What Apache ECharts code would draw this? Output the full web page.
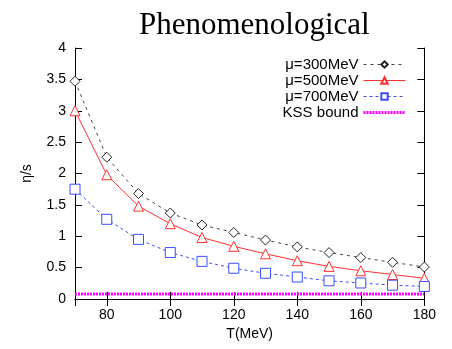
<!DOCTYPE html>
<html>
<head>
<meta charset="utf-8">
<script src="https://cdn.jsdelivr.net/npm/echarts@6/dist/echarts.min.js"></script>
<style>
html, body { margin: 0; padding: 0; background: #fff; }
#chart { width: 452px; height: 349px; }
</style>
</head>
<body>
<div id="chart"></div>
<script>
// temperature points (MeV)
const temps = [70, 80, 90, 100, 110, 120, 130, 140, 150, 160, 170, 180];
// eta/s
const mu300 = [3.47, 2.26, 1.68, 1.37, 1.18, 1.06, 0.94, 0.83, 0.74, 0.66, 0.585, 0.51];
const mu500 = [3.0, 1.98, 1.48, 1.20, 0.98, 0.84, 0.72, 0.61, 0.52, 0.45, 0.39, 0.33];
const mu700 = [1.75, 1.27, 0.95, 0.74, 0.60, 0.49, 0.41, 0.35, 0.29, 0.255, 0.22, 0.20];
const kss = [0.08, 0.08, 0.08, 0.08, 0.08, 0.08, 0.08, 0.08, 0.08, 0.08, 0.08, 0.08];
const xTicks = [80, 100, 120, 140, 160, 180];

const pairs = arr => temps.map((t, i) => [t, arr[i]]);

const chart = echarts.init(document.getElementById('chart'));
const sans = 'Liberation Sans';

const line = () => ({show: true, lineStyle: {color: '#000', width: 1}});
const tick = () => ({show: true, inside: true, length: 7, lineStyle: {color: '#000', width: 1}});

chart.setOption({
  animation: false,
  title: {
    text: 'Phenomenological',
    left: 134,
    top: 5,
    textStyle: {fontFamily: 'Liberation Serif', fontWeight: 'normal', fontSize: 31, color: '#000'}
  },
  grid: {left: 75, right: 25, top: 48, bottom: 50},
  legend: {
    orient: 'vertical',
    right: 40,
    top: 52,
    align: 'right',
    itemWidth: 42,
    itemHeight: 8,
    itemGap: 1,
    textStyle: {fontFamily: sans, fontSize: 15, color: '#000', lineHeight: 14},
    data: [
      {name: 'μ=300MeV', lineStyle: {width: 1}},
      {name: 'μ=500MeV', lineStyle: {width: 1}},
      {name: 'μ=700MeV', lineStyle: {width: 1}},
      {name: 'KSS bound', lineStyle: {width: 3}, itemStyle: {opacity: 0}}
    ]
  },
  xAxis: [
    {
      type: 'value', min: 70, max: 180,
      name: 'T(MeV)', nameLocation: 'middle', nameGap: 23,
      nameTextStyle: {fontFamily: sans, fontSize: 14, color: '#000'},
      axisLine: line(), splitLine: {show: false},
      axisTick: Object.assign(tick(), {customValues: xTicks}),
      axisLabel: {fontFamily: sans, fontSize: 14, color: '#000', margin: 9, customValues: xTicks}
    },
    {
      type: 'value', min: 70, max: 180, position: 'top',
      axisLine: line(), splitLine: {show: false},
      axisTick: tick(),
      axisLabel: {show: true, color: 'rgba(0,0,0,0)'}
    }
  ],
  yAxis: [
    {
      type: 'value', min: 0, max: 4, interval: 0.5,
      name: 'η/s', nameLocation: 'middle', nameGap: 41,
      nameTextStyle: {fontFamily: sans, fontSize: 14, color: '#000'},
      axisLine: line(), splitLine: {show: false},
      axisTick: tick(),
      axisLabel: {fontFamily: sans, fontSize: 14, color: '#000', margin: 9}
    },
    {
      type: 'value', min: 0, max: 4, interval: 0.5, position: 'right',
      axisLine: line(), splitLine: {show: false},
      axisTick: tick(),
      axisLabel: {show: true, color: 'rgba(0,0,0,0)'}
    }
  ],
  series: [
    {
      name: 'μ=300MeV', type: 'line', data: pairs(mu300),
      symbol: 'diamond', symbolSize: 10,
      lineStyle: {color: '#444', width: 1, type: [3, 4]},
      itemStyle: {color: '#fff', borderColor: '#222', borderWidth: 1}
    },
    {
      name: 'μ=500MeV', type: 'line', data: pairs(mu500),
      symbol: 'triangle', symbolSize: 10,
      lineStyle: {color: '#ff3030', width: 1},
      itemStyle: {color: '#fff', borderColor: '#ff3030', borderWidth: 1}
    },
    {
      name: 'μ=700MeV', type: 'line', data: pairs(mu700),
      symbol: 'rect', symbolSize: 10,
      lineStyle: {color: '#3a4dff', width: 1, type: [3, 3]},
      itemStyle: {color: '#fff', borderColor: '#3a4dff', borderWidth: 1}
    },
    {
      name: 'KSS bound', type: 'line', data: pairs(kss),
      symbol: 'none',
      lineStyle: {color: '#ff00ff', width: 3, type: [2, 1]},
      itemStyle: {color: '#ff00ff'}
    }
  ]
});
</script>
</body>
</html>
